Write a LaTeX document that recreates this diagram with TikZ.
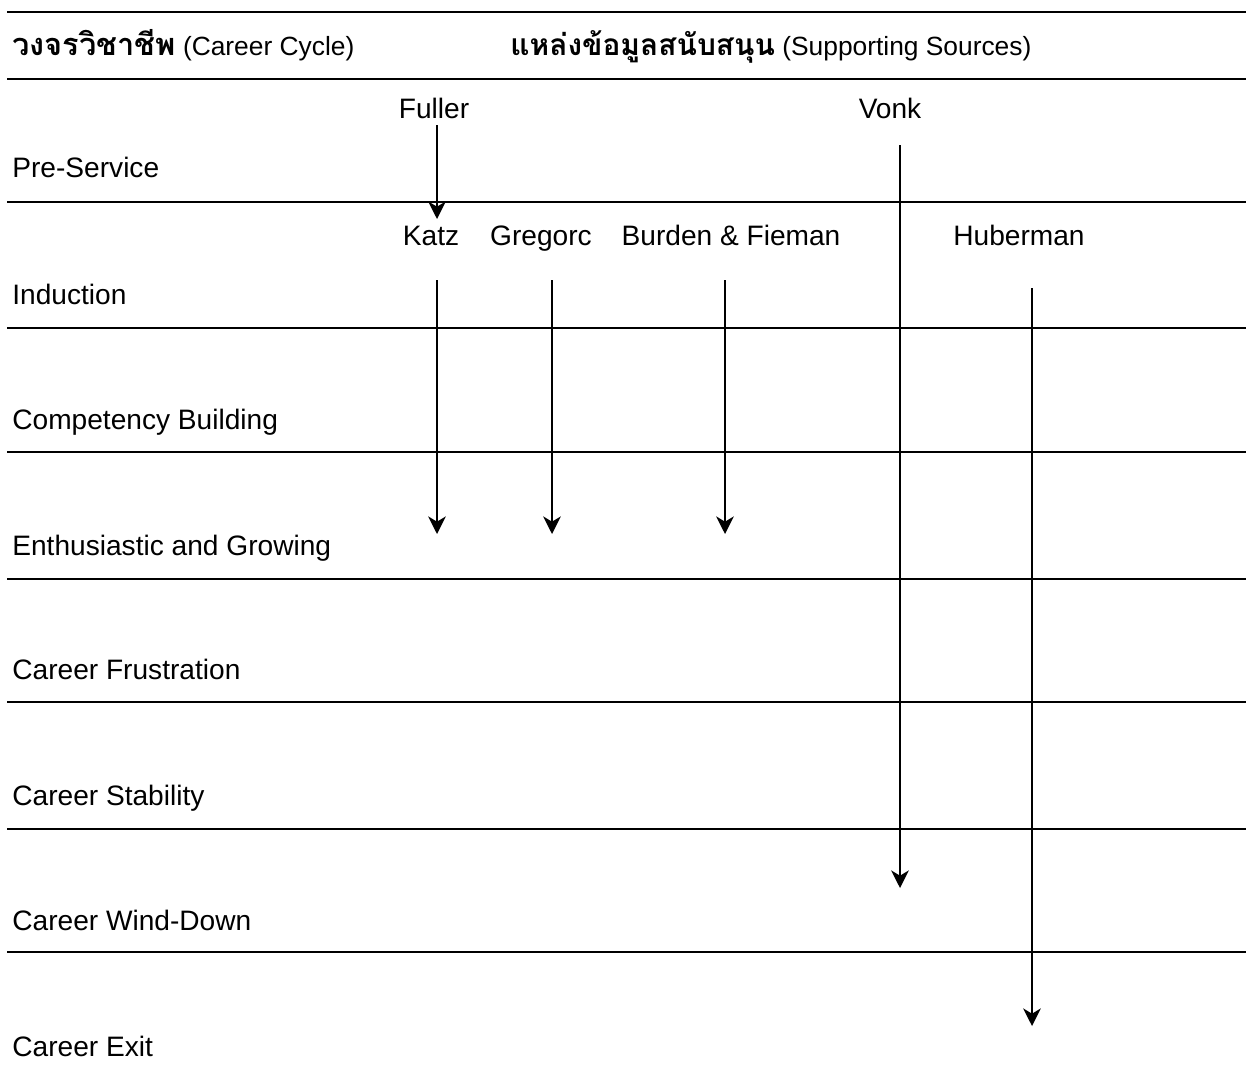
\documentclass[tikz,border=0pt]{standalone}
\usepackage{fontspec}
\setmainfont{Liberation Sans}
\newfontfamily\thaifont[Script=Thai]{Loma}
\usetikzlibrary{arrows.meta}

\begin{document}
\begin{tikzpicture}[x=0.02cm,y=-0.02cm]
\tikzstyle{every node}=[inner sep=0pt,font=\fontsize{16}{19}\selectfont];
\tikzstyle{phase}=[anchor=base west];
\tikzstyle{heading}=[anchor=base west,font=\fontsize{15}{19}\selectfont];
\tikzstyle{source}=[anchor=base];
\tikzstyle{rule}=[line width=1.1pt];
\tikzstyle{flow}=[line width=1.3pt,-{Stealth[length=10pt,width=10pt,inset=3pt]}];
\useasboundingbox (0,0) rectangle (1246,1076);

% table rules
\foreach \y in {12,79,202,328,452,579,702,829,952}
{
   \draw[rule] (7,\y) -- (1246,\y);
}

% header
\path (12,55) node[heading] (head1) {{\thaifont\bfseries\fontsize{17.5}{19}\selectfont วงจรวิชาชีพ} (Career Cycle)};
\path (510,55) node[heading] (head2) {{\thaifont\bfseries\fontsize{17}{19}\selectfont แหล่งข้อมูลสนับสนุน} (Supporting Sources)};

% phases of the cycle
\path (12,177) node[phase] (p1) {Pre-Service};
\path (12,304) node[phase] (p2) {Induction};
\path (12,429) node[phase] (p3) {Competency Building};
\path (12,555) node[phase] (p4) {Enthusiastic and Growing};
\path (12,679) node[phase] (p5) {Career Frustration};
\path (12,805) node[phase] (p6) {Career Stability};
\path (12,930) node[phase] (p7) {Career Wind-Down};
\path (12,1056) node[phase] (p8) {Career Exit};

% sources
\path (434,118) node[source] (fuller) {Fuller};
\path (890,118) node[source] (vonk) {Vonk};
\path (431,245) node[source] (katz) {Katz};
\path (541,245) node[source] (gregorc) {Gregorc};
\path (731,245) node[source] (burden) {Burden \& Fieman};
\path (1019,245) node[source] (huberman) {Huberman};

% arrow ends
\coordinate (fuller-top) at (437,125);
\coordinate (fuller-tip) at (437,219);
\coordinate (vonk-top) at (900,145);
\coordinate (vonk-tip) at (900,888);
\coordinate (katz-top) at (437,280);
\coordinate (katz-tip) at (437,534);
\coordinate (gregorc-top) at (552,280);
\coordinate (gregorc-tip) at (552,534);
\coordinate (burden-top) at (725,280);
\coordinate (burden-tip) at (725,534);
\coordinate (huberman-top) at (1032,288);
\coordinate (huberman-tip) at (1032,1026);

\draw[flow] (fuller-top) -- (fuller-tip);
\draw[flow] (vonk-top) -- (vonk-tip);
\draw[flow] (katz-top) -- (katz-tip);
\draw[flow] (gregorc-top) -- (gregorc-tip);
\draw[flow] (burden-top) -- (burden-tip);
\draw[flow] (huberman-top) -- (huberman-tip);
\end{tikzpicture}
\end{document}
